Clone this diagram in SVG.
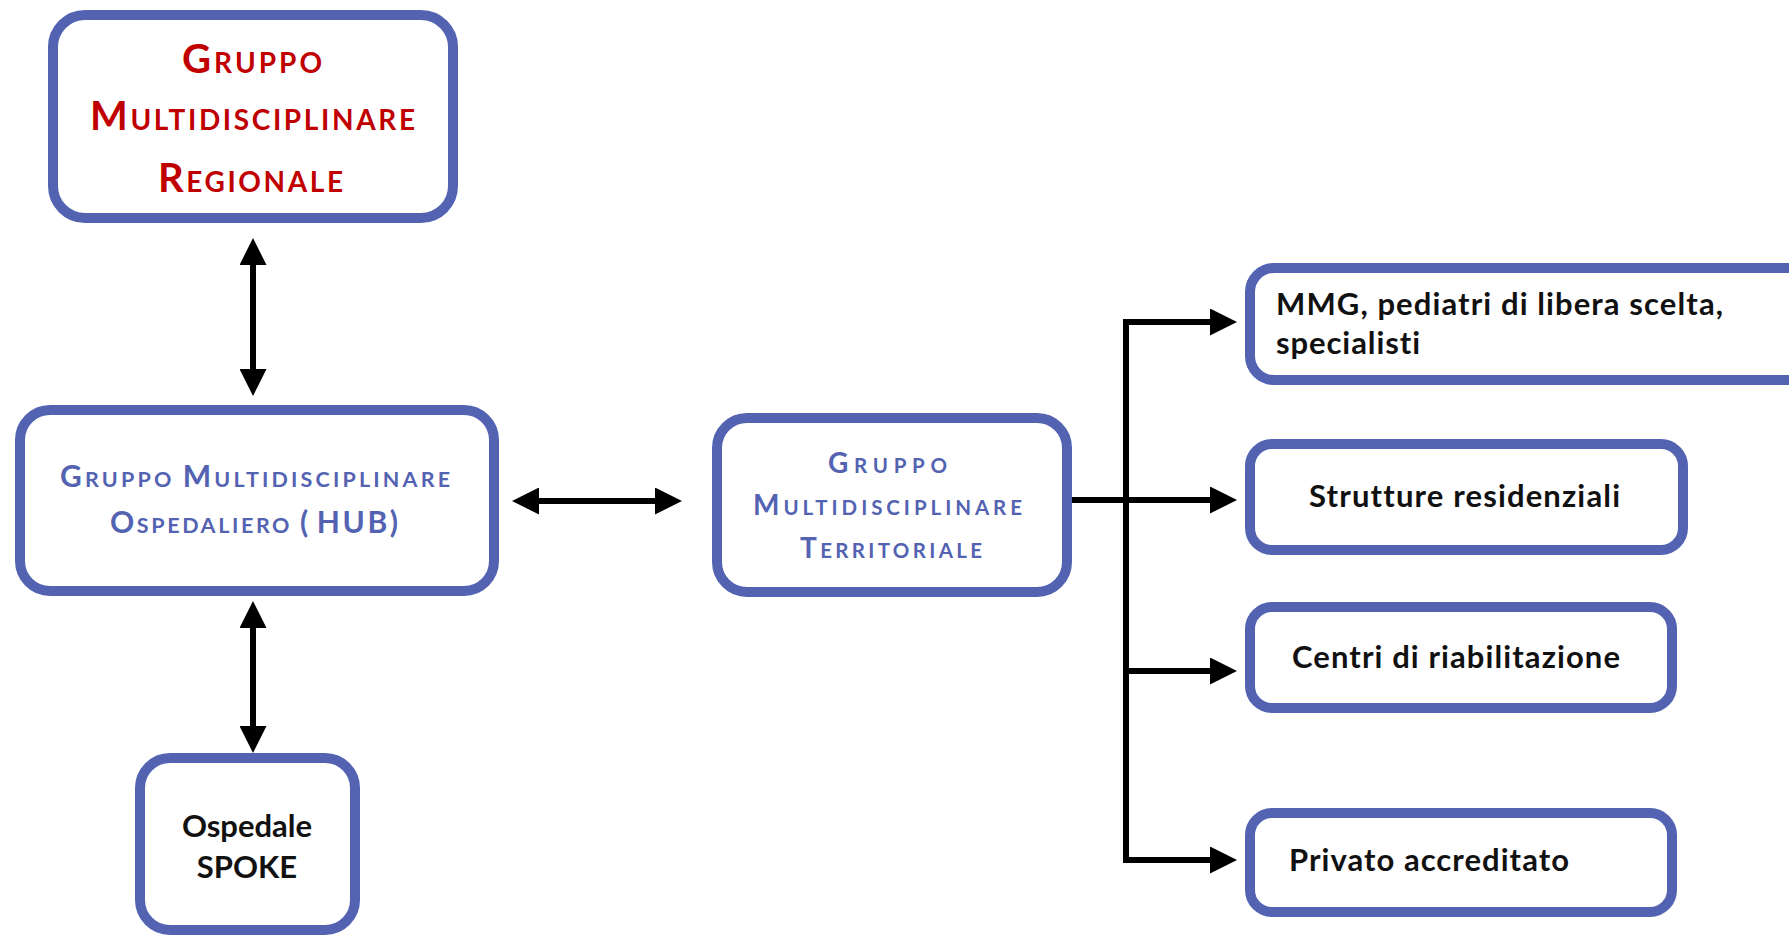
<svg xmlns="http://www.w3.org/2000/svg" width="1789" height="937" viewBox="0 0 1789 937">
  <style>
    .box { fill: #ffffff; stroke: #5363b2; stroke-width: 10; }
    .wire { fill: none; stroke: #000000; stroke-width: 6; }
    text { font-variant-ligatures: none; }
    .red { fill: #c00000; font-family: Lato, "Liberation Sans", sans-serif; font-weight: bold; }
    .blue { fill: #5363b2; font-family: Lato, "Liberation Sans", sans-serif; font-weight: bold; }
    .lbl { fill: #111111; font-family: Lato, "Liberation Sans", sans-serif; font-weight: bold; font-size: 31px; }
  </style>
  <defs>
    <marker id="head" viewBox="0 0 27 27" markerUnits="userSpaceOnUse" markerWidth="27" markerHeight="27" refX="7" refY="13.5" orient="auto-start-reverse">
      <path d="M0,0 L27,13.5 L0,27 Z" fill="#000000"/>
    </marker>
  </defs>
  <rect width="1789" height="937" fill="#ffffff"/>

  <!-- connectors -->
  <g id="connectors">
    <path class="wire" d="M253,258 V376" marker-start="url(#head)" marker-end="url(#head)"/>
    <path class="wire" d="M253,621 V733" marker-start="url(#head)" marker-end="url(#head)"/>
    <path class="wire" d="M532,501 H662" marker-start="url(#head)" marker-end="url(#head)"/>
    <path class="wire" d="M1068,500 H1217" marker-end="url(#head)"/>
    <path class="wire" d="M1126,319 V863"/>
    <path class="wire" d="M1123,322 H1217" marker-end="url(#head)"/>
    <path class="wire" d="M1126,671 H1217" marker-end="url(#head)"/>
    <path class="wire" d="M1123,860 H1217" marker-end="url(#head)"/>
  </g>

  <!-- regional group -->
  <g id="regionale">
    <rect class="box" x="53" y="15" width="400" height="203" rx="32"/>
    <text class="red" x="182" y="73" font-size="28" textLength="140" lengthAdjust="spacing"><tspan font-size="40">G</tspan>RUPPO</text>
    <text class="red" x="90" y="130" font-size="28" textLength="325" lengthAdjust="spacing"><tspan font-size="40">M</tspan>ULTIDISCIPLINARE</text>
    <text class="red" x="158" y="192" font-size="28" textLength="185" lengthAdjust="spacing"><tspan font-size="40">R</tspan>EGIONALE</text>
  </g>

  <!-- hospital hub group -->
  <g id="hub">
    <rect class="box" x="20" y="410" width="474" height="181" rx="30"/>
    <text class="blue" x="60" y="487" font-size="21.5" textLength="390" lengthAdjust="spacing"><tspan font-size="30">G</tspan>RUPPO <tspan font-size="30">M</tspan>ULTIDISCIPLINARE</text>
    <text class="blue" x="110" y="533" font-size="21.5" textLength="288" lengthAdjust="spacing"><tspan font-size="30">O</tspan>SPEDALIERO <tspan font-size="30">(<tspan dx="6">HUB)</tspan></tspan></text>
  </g>

  <!-- spoke hospital -->
  <g id="spoke">
    <rect class="box" x="140" y="758" width="215" height="172" rx="30"/>
    <text class="lbl" x="247" y="837" text-anchor="middle">Ospedale</text>
    <text class="lbl" x="247" y="878" text-anchor="middle">SPOKE</text>
  </g>

  <!-- territorial group -->
  <g id="territoriale">
    <rect class="box" x="717" y="418" width="350" height="174" rx="30"/>
    <text class="blue" x="828" y="473" font-size="20.5" textLength="119" lengthAdjust="spacing"><tspan font-size="28">G</tspan>RUPPO</text>
    <text class="blue" x="753" y="515" font-size="20.5" textLength="269" lengthAdjust="spacing"><tspan font-size="28">M</tspan>ULTIDISCIPLINARE</text>
    <text class="blue" x="800" y="558" font-size="20.5" textLength="182" lengthAdjust="spacing"><tspan font-size="28">T</tspan>ERRITORIALE</text>
  </g>

  <!-- territorial services -->
  <g id="mmg">
    <rect class="box" x="1250" y="268" width="600" height="112" rx="24"/>
    <text class="lbl" x="1276" y="315" textLength="447" lengthAdjust="spacing">MMG, pediatri di libera scelta,</text>
    <text class="lbl" x="1276" y="354" textLength="144" lengthAdjust="spacing">specialisti</text>
  </g>

  <g id="strutture">
    <rect class="box" x="1250" y="444" width="433" height="106" rx="22"/>
    <text class="lbl" x="1309" y="507" textLength="311" lengthAdjust="spacing">Strutture residenziali</text>
  </g>

  <g id="centri">
    <rect class="box" x="1250" y="607" width="422" height="101" rx="22"/>
    <text class="lbl" x="1292" y="668" textLength="328" lengthAdjust="spacing">Centri di riabilitazione</text>
  </g>

  <g id="privato">
    <rect class="box" x="1250" y="813" width="422" height="99" rx="22"/>
    <text class="lbl" x="1289" y="871" textLength="280" lengthAdjust="spacing">Privato accreditato</text>
  </g>
</svg>
